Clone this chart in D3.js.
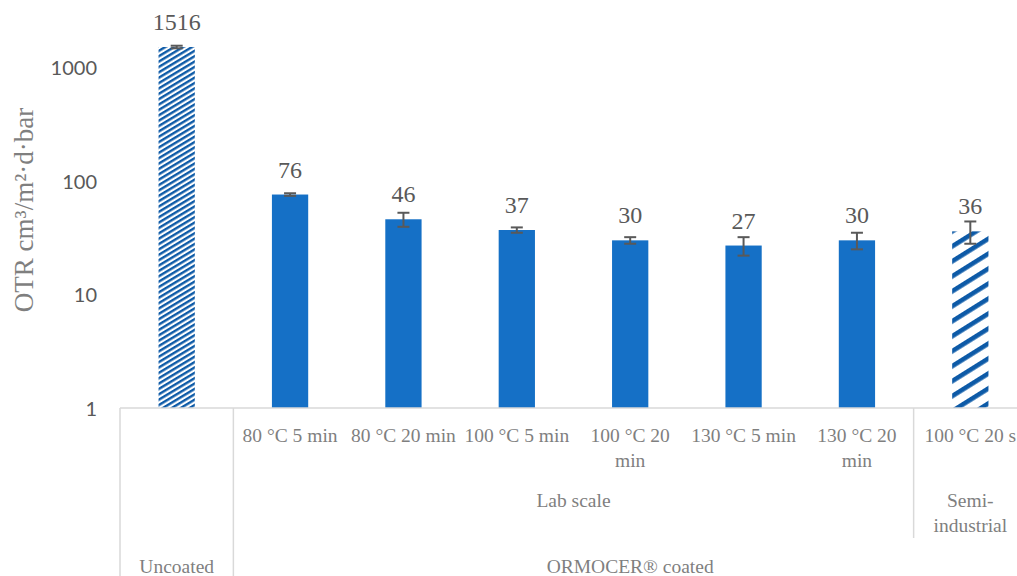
<!DOCTYPE html>
<html>
<head>
<meta charset="utf-8">
<script src="https://cdn.jsdelivr.net/npm/d3@7"></script>
<style>
  html, body { margin: 0; padding: 0; background: #fff; }
  svg { display: block; }
</style>
</head>
<body>
<svg id="chart" width="1017" height="576"></svg>
<script>
// OTR values (cm³/m²·d·bar) with standard deviations
const categories = ["Uncoated", "80 °C 5 min", "80 °C 20 min", "100 °C 5 min", "100 °C 20 min", "130 °C 5 min", "130 °C 20 min", "100 °C 20 s"];
const otrValues = [1516, 76, 46, 37, 30, 27, 30, 36];
const otrErrors = [40, 2, 6.5, 2, 2, 5, 5, 8];
const barFills = ["dense", "solid", "solid", "solid", "solid", "solid", "solid", "wide"];

// Category axis: first level (conditions, wrapped), second level (scale), third level (coating)
const conditionLines = [[], ["80 °C 5 min"], ["80 °C 20 min"], ["100 °C 5 min"], ["100 °C 20", "min"], ["130 °C 5 min"], ["130 °C 20", "min"], ["100 °C 20 s"]];
const scaleGroups = [{ lines: ["Lab scale"], from: 1, to: 6 }, { lines: ["Semi-", "industrial"], from: 7, to: 7 }];
const coatingGroups = [{ lines: ["Uncoated"], from: 0, to: 0 }, { lines: ["ORMOCER® coated"], from: 1, to: 7 }];
const yTickValues = [1, 10, 100, 1000];
const yTitle = "OTR cm³/m²·d·bar";

const serif = "'Liberation Serif', 'Times New Roman', serif";
const sans = "Lato, 'Liberation Sans', sans-serif";
const solidBlue = "#1570c6";
const hatchBlue = "#0d5aa7";
const lineGray = "#d9d9d9";

const svg = d3.select("#chart");
const baseY = 408;

const x = d3.scaleBand()
  .domain(d3.range(categories.length))
  .range([120, 1027])
  .paddingInner(0.68)
  .paddingOuter(0.34);

const y = d3.scaleLog()
  .domain([1, Math.pow(10, baseY / 113.5)])
  .range([baseY, 0]);

// Hatch patterns
const defs = svg.append("defs");
function hatch(id, period, stripe, angle) {
  const p = defs.append("pattern")
    .attr("id", id)
    .attr("patternUnits", "userSpaceOnUse")
    .attr("width", 40)
    .attr("height", period)
    .attr("patternTransform", `rotate(${angle})`);
  p.append("rect").attr("width", 40).attr("height", period).attr("fill", "#fff");
  p.append("rect").attr("width", 40).attr("height", stripe).attr("fill", hatchBlue);
}
hatch("hatch-dense", 4.6, 2.4, -31);
hatch("hatch-wide", 12.7, 4.6, -32);

const fillFor = k => k === "solid" ? solidBlue : (k === "dense" ? "url(#hatch-dense)" : "url(#hatch-wide)");

// Bars
svg.append("g").selectAll("rect")
  .data(otrValues)
  .join("rect")
  .attr("x", (d, i) => x(i))
  .attr("y", d => y(d))
  .attr("width", x.bandwidth())
  .attr("height", d => baseY - y(d))
  .attr("fill", (d, i) => fillFor(barFills[i]));

// Error bars
const eb = svg.append("g").attr("stroke", "#595959").attr("stroke-width", 2);
otrValues.forEach((v, i) => {
  const cx = x(i) + x.bandwidth() / 2;
  const top = y(v + otrErrors[i]);
  const bot = y(v - otrErrors[i]);
  eb.append("line").attr("x1", cx).attr("x2", cx).attr("y1", top).attr("y2", bot);
  eb.append("line").attr("x1", cx - 6).attr("x2", cx + 6).attr("y1", top).attr("y2", top);
  eb.append("line").attr("x1", cx - 6).attr("x2", cx + 6).attr("y1", bot).attr("y2", bot);
});

// Value labels
svg.append("g").selectAll("text")
  .data(otrValues)
  .join("text")
  .attr("x", (d, i) => x(i) + x.bandwidth() / 2)
  .attr("y", d => y(d) - 17)
  .attr("text-anchor", "middle")
  .attr("font-family", serif)
  .attr("font-size", 24)
  .attr("fill", "#595959")
  .text(d => d);

// Y axis (labels only)
const yAxis = d3.axisLeft(y).tickValues(yTickValues).tickFormat(d3.format("d")).tickSize(0).tickPadding(0);
const yg = svg.append("g").attr("transform", "translate(97,0)").call(yAxis);
yg.select(".domain").remove();
yg.selectAll("text")
  .attr("font-family", sans)
  .attr("font-size", 20)
  .attr("fill", "#595959")
  .attr("dy", "0.36em");

// Y title
svg.append("text")
  .attr("transform", "translate(33,210) rotate(-90)")
  .attr("text-anchor", "middle")
  .attr("font-family", serif)
  .attr("font-size", 27)
  .attr("fill", "#7f7f7f")
  .text(yTitle);

// Category axis lines
const cat = svg.append("g").attr("stroke", lineGray).attr("stroke-width", 1.5);
cat.append("line").attr("x1", 120).attr("x2", 1017).attr("y1", baseY).attr("y2", baseY);
const edge = i => x(i) - x.step() * x.paddingInner() / 2;
cat.append("line").attr("x1", edge(0)).attr("x2", edge(0)).attr("y1", baseY).attr("y2", 576);
cat.append("line").attr("x1", edge(1)).attr("x2", edge(1)).attr("y1", baseY).attr("y2", 576);
cat.append("line").attr("x1", edge(7)).attr("x2", edge(7)).attr("y1", baseY).attr("y2", 538);

function multiline(g, lines, cx, y0) {
  const t = g.append("text")
    .attr("x", cx)
    .attr("y", y0)
    .attr("text-anchor", "middle")
    .attr("font-family", serif)
    .attr("font-size", 19.5)
    .attr("fill", "#7f7f7f");
  lines.forEach((l, k) => t.append("tspan").attr("x", cx).attr("dy", k === 0 ? 0 : 25).text(l));
}

const labels = svg.append("g");
conditionLines.forEach((lines, i) => multiline(labels, lines, x(i) + x.bandwidth() / 2, 442));
const groupCenter = g => (edge(g.from) + edge(g.to) + x.step()) / 2;
scaleGroups.forEach(g => multiline(labels, g.lines, groupCenter(g), 507));
coatingGroups.forEach(g => multiline(labels, g.lines, groupCenter(g), 573));
</script>
</body>
</html>
